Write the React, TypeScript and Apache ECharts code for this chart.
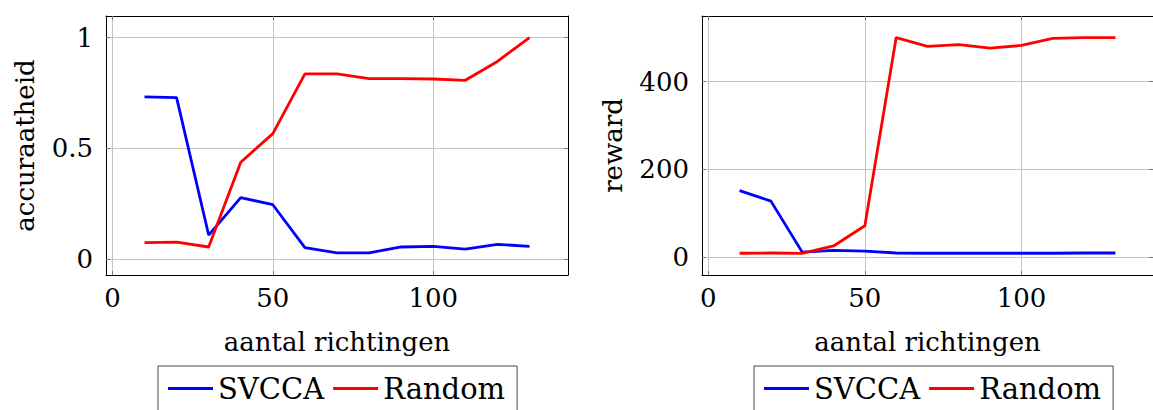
import React, { useEffect, useRef } from "react";
import * as echarts from "echarts";

const directions = [10, 20, 30, 40, 50, 60, 70, 80, 90, 100, 110, 120, 130];
const accSVCCA = [0.732, 0.729, 0.108, 0.277, 0.245, 0.051, 0.027, 0.027, 0.054, 0.057, 0.044, 0.066, 0.057];
const accRandom = [0.074, 0.076, 0.054, 0.437, 0.566, 0.836, 0.836, 0.815, 0.815, 0.813, 0.807, 0.892, 1.0];
const rewSVCCA = [152, 128, 12, 16, 14.5, 10, 9.5, 9.5, 9.5, 9.5, 9.5, 10, 10];
const rewRandom = [9.5, 10, 9, 26, 72, 500, 480, 484, 476, 482, 498, 500, 500];
const xTicks = [0, 50, 100];
const accTicks = [0, 0.5, 1];
const rewTicks = [0, 200, 400];
const seriesNames = ["SVCCA", "Random"];
const xName = "aantal richtingen";
const yNames = ["accuraatheid", "reward"];

const FONT = "DejaVu Serif";
const FS = 26;
const FS_TICK = 26;
const FS_LEG = 29;

export default function App() {
  const ref = useRef<HTMLDivElement>(null);
  useEffect(() => {
    if (!ref.current) return;
    const chart = echarts.init(ref.current, undefined, { renderer: "svg" });
    const pair = (xs: number[], ys: number[]) => xs.map((x, i) => [x, ys[i]]);
    const tickStyle = { show: true, inside: true, length: 4, lineStyle: { color: "#777", width: 1 } };
    const mkX = (gi: number, pos: "bottom" | "top", main: boolean) => ({
      type: "value",
      gridIndex: gi,
      position: pos,
      min: -2,
      max: 142,
      name: main ? xName : undefined,
      nameLocation: "middle",
      nameGap: 54,
      nameTextStyle: { fontFamily: FONT, fontSize: FS, color: "#000" },
      axisLine: { show: true, onZero: false, lineStyle: { color: "#000", width: 1 } },
      axisTick: { ...tickStyle, customValues: xTicks },
      axisLabel: {
        show: main,
        customValues: xTicks,
        margin: 10,
        fontFamily: FONT,
        fontSize: FS_TICK,
        color: "#000",
      },
      splitLine: { show: main, lineStyle: { color: "#c4c4c4", width: 1 } },
    });
    const mkY = (gi: number, pos: "left" | "right", main: boolean, min: number, max: number, ticks: number[], name: string, gap: number) => ({
      type: "value",
      gridIndex: gi,
      position: pos,
      min,
      max,
      name: main ? name : undefined,
      nameLocation: "middle",
      nameGap: gap,
      nameRotate: 90,
      nameTextStyle: { fontFamily: FONT, fontSize: FS, color: "#000" },
      axisLine: { show: true, onZero: false, lineStyle: { color: "#000", width: 1 } },
      axisTick: { ...tickStyle, customValues: ticks },
      axisLabel: {
        show: main,
        customValues: ticks,
        margin: 13,
        fontFamily: FONT,
        fontSize: FS_TICK,
        color: "#000",
      },
      splitLine: { show: main, lineStyle: { color: "#c4c4c4", width: 1 } },
    });
    const line = (name: string, color: string, xi: number, yi: number, data: number[][]) => ({
      type: "line",
      name,
      xAxisIndex: xi,
      yAxisIndex: yi,
      data,
      symbol: "none",
      color,
      lineStyle: { color, width: 2.8 },
    });
    const legend = (left: number) => ({
      left,
      top: 366,
      orient: "horizontal",
      data: seriesNames,
      icon: "rect",
      itemWidth: 45,
      itemHeight: 3,
      itemGap: 9,
      borderColor: "#444",
      borderWidth: 1,
      borderRadius: 0,
      padding: [8, 12, 14, 10],
      selectedMode: false,
      textStyle: { fontFamily: FONT, fontSize: FS_LEG, color: "#000" },
    });
    chart.setOption({
      animation: false,
      backgroundColor: "#fff",
      textStyle: { fontFamily: FONT },
      grid: [
        { left: 106, top: 16, width: 462, height: 259 },
        { left: 702, top: 16, width: 462, height: 259 },
      ],
      xAxis: [mkX(0, "bottom", true), mkX(0, "top", false), mkX(1, "bottom", true), mkX(1, "top", false)],
      yAxis: [
        mkY(0, "left", true, -0.0725, 1.0975, accTicks, yNames[0], 68),
        mkY(0, "right", false, -0.0725, 1.0975, accTicks, yNames[0], 68),
        mkY(1, "left", true, -40, 549, rewTicks, yNames[1], 76),
        mkY(1, "right", false, -40, 549, rewTicks, yNames[1], 76),
      ],
      legend: [legend(158), legend(754)],
      series: [
        line(seriesNames[0], "#0000ff", 0, 0, pair(directions, accSVCCA)),
        line(seriesNames[1], "#ff0000", 0, 0, pair(directions, accRandom)),
        line(seriesNames[0], "#0000ff", 2, 2, pair(directions, rewSVCCA)),
        line(seriesNames[1], "#ff0000", 2, 2, pair(directions, rewRandom)),
      ],
    });
    return () => chart.dispose();
  }, []);
  return (
    <div
      ref={ref}
      style={{ position: "fixed", left: 0, top: 0, width: 1153, height: 410, background: "#fff" }}
    />
  );
}
